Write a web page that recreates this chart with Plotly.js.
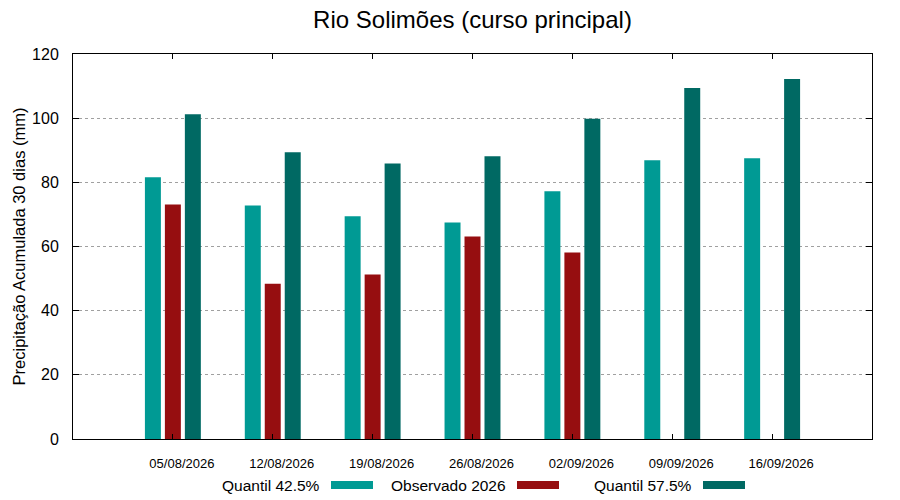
<!DOCTYPE html>
<html>
<head>
<meta charset="utf-8">
<script src="https://cdn.plot.ly/plotly-3.0.1.min.js"></script>
<style>html,body{margin:0;padding:0;background:#fff}#chart{width:900px;height:500px}</style>
</head>
<body>
<div id="chart"></div>
<script>
const dates = ["05/08/2026","12/08/2026","19/08/2026","26/08/2026","02/09/2026","09/09/2026","16/09/2026"];
const seriesNames = ["Quantil 42.5%","Observado 2026","Quantil 57.5%"];
const q425 = [81.6, 72.8, 69.4, 67.5, 77.2, 86.9, 87.5];
const obs2026 = [73.1, 48.4, 51.3, 63.1, 58.1, null, null];
const q575 = [101.2, 89.4, 85.9, 88.1, 99.8, 109.4, 112.2];
const colors = ["#009a94", "#960e10", "#006963"];
const yTicks = [0, 20, 40, 60, 80, 100, 120];

const idx = dates.map((d, i) => i);
const values = [q425, obs2026, q575];
const offsets = [-0.28, -0.08, 0.12];

const traces = values.map((v, k) => ({
  type: "bar",
  x: idx,
  y: v,
  name: seriesNames[k],
  width: 0.16,
  offset: offsets[k],
  marker: {color: colors[k], line: {width: 0}},
  showlegend: false,
  hoverinfo: "skip"
}));

// legend drawn gnuplot-style: text then swatch
const W = 900, H = 500, L = 73, R = 28, T = 54, B = 61;
const pw = W - L - R, ph = H - T - B;
const px = x => (x - L) / pw;
const py = y => (H - B - y) / ph;
const annotations = [], shapes = [];
seriesNames.forEach((n, k) => {
  const sx = 331 + 186 * k;
  annotations.push({
    text: n, xref: "paper", yref: "paper", x: px(sx - 9), y: py(485),
    xanchor: "right", yanchor: "middle", showarrow: false,
    font: {family: "Liberation Sans, Arial, sans-serif", size: 15.5, color: "#000"}
  });
  shapes.push({
    type: "rect", xref: "paper", yref: "paper",
    x0: px(sx), x1: px(sx + 42), y0: py(489), y1: py(481),
    fillcolor: colors[k], line: {width: 0}
  });
});

const layout = {
  width: W, height: H,
  margin: {l: L, r: R, t: T, b: B, pad: 0},
  paper_bgcolor: "#fff", plot_bgcolor: "#fff",
  font: {family: "Liberation Sans, Arial, sans-serif", color: "#000"},
  title: {
    text: "Rio Solimões (curso principal)",
    font: {size: 24, color: "#000"},
    xref: "paper", x: 0.5, xanchor: "center",
    yref: "container", y: 1 - 20 / H, yanchor: "middle"
  },
  barmode: "overlay",
  xaxis: {
    range: [-1, 7],
    tickvals: idx, ticktext: dates,
    ticks: "inside", ticklen: 5, tickcolor: "#000", tickwidth: 1,
    ticklabelshift: 9, ticklabelstandoff: 12,
    tickfont: {size: 13, color: "#000"},
    showline: true, linecolor: "#000", linewidth: 1, mirror: "ticks",
    showgrid: false, zeroline: false, fixedrange: true
  },
  yaxis: {
    range: [0, 120],
    tickvals: yTicks,
    ticks: "inside", ticklen: 6, tickcolor: "#000", tickwidth: 1,
    ticklabelstandoff: 10,
    tickfont: {size: 16, color: "#000"},
    showline: true, linecolor: "#000", linewidth: 1, mirror: "ticks",
    showgrid: true, gridcolor: "#a0a0a0", griddash: "dot", gridwidth: 1,
    zeroline: false, fixedrange: true,
    title: {text: "Precipitação Acumulada 30 dias (mm)", font: {size: 16.5, color: "#000"}, standoff: 2},
    automargin: false
  },
  annotations: annotations,
  shapes: shapes
};

Plotly.newPlot("chart", traces, layout, {staticPlot: true, displayModeBar: false});
</script>
</body>
</html>
